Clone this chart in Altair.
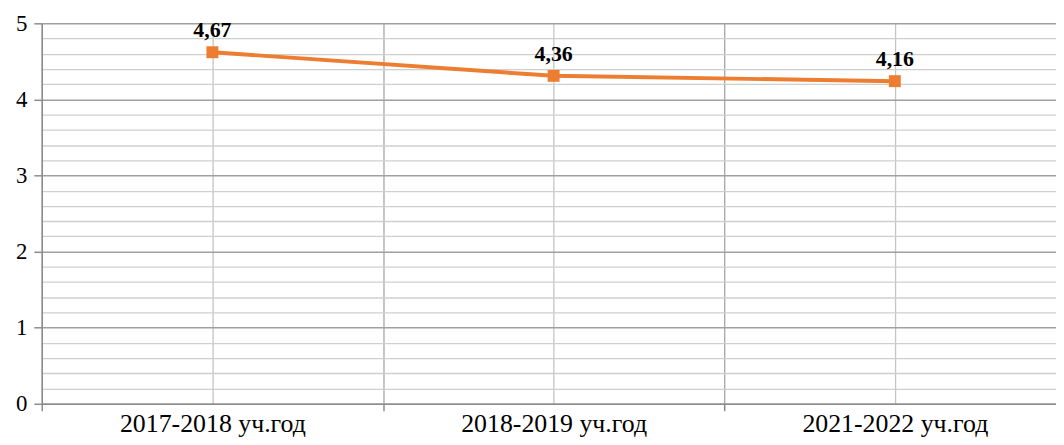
import altair as alt
import pandas as pd

categories = ["2017-2018 уч.год", "2018-2019 уч.год", "2021-2022 уч.год"]
values = [4.62, 4.31, 4.24]
labels = ["4,67", "4,36", "4,16"]
major_ticks = [0, 1, 2, 3, 4, 5]
minor_ticks = [round(0.2 * k, 1) for k in range(1, 25) if k % 5 != 0]

df = pd.DataFrame({
    "pos": [i + 0.5 for i in range(len(categories))],
    "cat": categories,
    "val": values,
    "lab": labels,
})

W, H = 1021, 383
xscale = alt.Scale(domain=[0, W / 343.5], nice=False, zero=False)
yscale = alt.Scale(domain=[0, 5], nice=False)
FONT = "'Times New Roman', 'Liberation Serif', 'DejaVu Serif', serif"
ORANGE = "#ED7D31"

label_expr = "[" + ",".join("'" + c + "'" for c in categories) + "][floor(datum.value)]"

base = alt.Chart(df)

grid_layer = base.mark_point(opacity=0).encode(
    x=alt.X("pos:Q", scale=xscale, axis=alt.Axis(
        orient="bottom", values=[0, 1, 2, 3], labels=False, ticks=True, tickSize=7,
        tickColor="#8c8c8c", tickWidth=1.5, grid=True, gridColor="#a6a6a6", gridWidth=1.3,
        domain=False, title=None)),
    y=alt.Y("val:Q", scale=yscale, axis=alt.Axis(
        orient="left", values=minor_ticks, labels=False, ticks=False, grid=True,
        gridColor="#cfcfcf", gridWidth=1.3, domain=False, title=None)),
)

line = base.mark_line(color=ORANGE, strokeWidth=4).encode(
    x=alt.X("pos:Q", scale=xscale, axis=alt.Axis(
        orient="bottom", values=[0.5, 1.5, 2.5], labelExpr=label_expr, ticks=False,
        grid=True, gridColor="#c4c4c4", gridWidth=1.3, domain=True, domainColor="#8c8c8c",
        domainWidth=1.5, labelFont=FONT, labelFontSize=26, labelColor="#000000",
        labelPadding=28, labelBaseline="alphabetic", labelLimit=500, title=None)),
    y=alt.Y("val:Q", scale=yscale, axis=alt.Axis(
        orient="left", values=major_ticks, tickSize=8, tickColor="#8c8c8c", tickWidth=1.5,
        grid=True, gridColor="#a0a0a0", gridWidth=1.5, domain=True, domainColor="#8c8c8c",
        domainWidth=1.5, labelFont=FONT, labelFontSize=23, labelColor="#000000",
        labelPadding=7, title=None)),
)

points = base.mark_square(color=ORANGE, size=144, opacity=1).encode(
    x=alt.X("pos:Q", scale=xscale, axis=None),
    y=alt.Y("val:Q", scale=yscale, axis=None),
)

text = base.mark_text(font=FONT, fontSize=22, fontWeight="bold", color="#000000",
                      baseline="alphabetic", dy=-15).encode(
    x=alt.X("pos:Q", scale=xscale, axis=None),
    y=alt.Y("val:Q", scale=yscale, axis=None),
    text="lab:N",
)

chart = alt.layer(grid_layer, line, points, text).resolve_axis(
    x="independent", y="independent"
).properties(
    width=W, height=H,
    padding={"left": 34, "top": 14, "right": 0, "bottom": 32},
    autosize=alt.AutoSizeParams(type="none"),
).configure_view(stroke=None)

chart.save("out.html", embed_options={"renderer": "svg", "actions": False})
